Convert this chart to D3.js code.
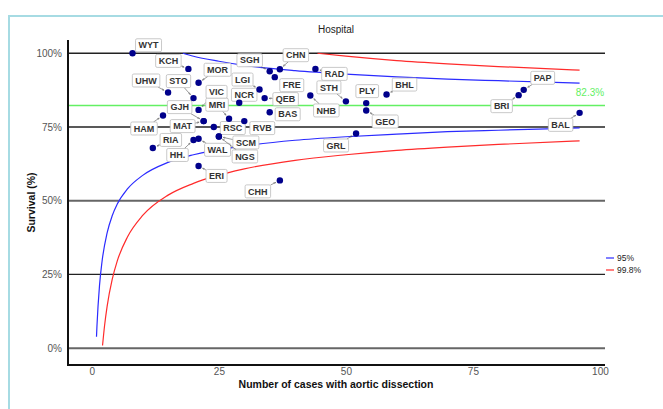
<!DOCTYPE html>
<html lang="en">
<head>
<meta charset="UTF-8">
<title>Hospital funnel plot</title>
<script src="https://cdn.jsdelivr.net/npm/d3@7"></script>
<style>
  body { margin: 0; background: #fff; }
  text { font-family: "Liberation Sans", Arial, sans-serif; }
</style>
</head>
<body>
<script>

    // hospitals: cases and survival (%)
    var hospitals = ["WYT","KCH","MOR","UHW","STO","VIC","GJH","MAT","MRI","LGI","NCR","QEB","BAS","SGH","CHN","FRE",
                     "HAM","RSC","RVB","RIA","HH.","WAL","SCM","NGS","ERI","CHH","GRL","RAD","NHB","STH","PLY","GEO",
                     "BHL","BRI","PAP","BAL"];
    var cases    = [8, 19, 21, 15, 20, 21, 22, 22, 27, 33, 29, 34, 35, 35, 37, 36,
                    14, 24, 30, 12, 20, 21, 25, 25, 21, 37, 52, 44, 43, 50, 54, 54,
                    58, 84, 85, 96];
    var survival = [100, 94.7, 90, 86.7, 84.8, 80.8, 77, 77, 77.8, 87.7, 83.2, 84.8, 80, 93.9, 94.6, 91.9,
                    78.9, 75, 77, 67.9, 70.6, 71, 71.8, 71.8, 61.8, 56.9, 72.8, 94.7, 85.7, 83.7, 83.1, 80.6,
                    86, 85.8, 87.6, 79.8];

    var overall = 82.3;

    // control limits (cases -> survival %)
    var lower95n  = [0.91, 1, 1.5, 2, 3, 4, 5, 7, 10, 15, 20, 30, 40, 50, 60, 70, 80, 96];
    var lower95   = [3.9, 7.5, 21.2, 29.4, 39.1, 44.9, 48.9, 54.0, 58.6, 63.0, 65.6, 68.6, 70.5, 71.7, 72.6, 73.4, 73.9, 74.7];
    var lower998n = [2.1, 2.5, 3, 4, 5, 7, 10, 15, 20, 30, 40, 50, 60, 70, 80, 96];
    var lower998  = [0.9, 7.7, 14.2, 23.3, 29.6, 37.7, 45.0, 51.9, 55.9, 60.8, 63.7, 65.6, 67.1, 68.2, 69.1, 70.3];
    var upper95n  = [17.9, 20, 25, 30, 40, 50, 60, 70, 80, 96];
    var upper95   = [100, 99.0, 97.3, 95.9, 94.1, 92.9, 92.0, 91.2, 90.7, 89.9];
    var upper998n = [44.4, 50, 60, 70, 80, 96];
    var upper998  = [100, 99.0, 97.5, 96.4, 95.5, 94.3];

    var yTicks = [0, 25, 50, 75, 100];
    var xTicks = [0, 25, 50, 75, 100];

    // label nudges (px) for the repelled labels
    var nudge = {
        WYT:[16,-8], KCH:[-20,-8], MOR:[19,-13], UHW:[-22,-12], STO:[-15,-17], VIC:[18,-18],
        GJH:[-24,-14], MAT:[-21,5], MRI:[-12,-14], LGI:[-17,-10], NCR:[5,-8], QEB:[21,1],
        BAS:[18,2], SGH:[-20,-11], CHN:[16,-14], FRE:[17,8], HAM:[-19,13], RSC:[19,1],
        RVB:[18,7], RIA:[18,-8], "HH.":[-16,15], WAL:[19,11], SCM:[27,6], NGS:[26,20],
        ERI:[18,10], CHH:[-22,11], GRL:[-20,12], RAD:[19,5], NHB:[16,15], STH:[-17,-14],
        PLY:[1,-12], GEO:[19,11], BHL:[18,-10], BRI:[-17,11], PAP:[19,-12], BAL:[-19,12]
    };

    var W = 663, H = 409;
    var pLeft = 68, pRight = 605, pTop = 40, pBottom = 365;

    var svg = d3.select("body").append("svg")
            .attr("width", W)
            .attr("height", H);

    // light blue frame of the screenshot
    svg.append("path")
            .attr("d", "M9," + H + "V16H" + W)
            .attr("fill", "none")
            .attr("stroke", "#a6dbe3")
            .attr("stroke-width", 2);

    var x = d3.scaleLinear().domain([-4.7, 101]).range([pLeft, pRight]);
    var y = d3.scaleLinear().domain([-5.7, 104.5]).range([pBottom, pTop]);

    // horizontal reference lines
    svg.append("g").selectAll("line")
            .data(yTicks)
            .enter().append("line")
            .attr("x1", pLeft).attr("x2", pRight)
            .attr("y1", function (d) { return y(d); })
            .attr("y2", function (d) { return y(d); })
            .attr("stroke", function (d) { return (d == 0 || d == 50) ? "#666" : "#222"; })
            .attr("stroke-width", function (d) { return (d == 0 || d == 50) ? 2 : 1.3; });

    svg.append("line")
            .attr("x1", pLeft).attr("x2", pRight)
            .attr("y1", y(overall)).attr("y2", y(overall))
            .attr("stroke", "#63f063")
            .attr("stroke-width", 1.6);

    svg.append("text")
            .attr("x", 590).attr("y", y(overall) - 9)
            .attr("text-anchor", "middle")
            .attr("font-size", 10)
            .attr("fill", "#63f063")
            .text(overall + "%");

    // funnel limits
    var line = d3.line()
            .x(function (d) { return x(d[0]); })
            .y(function (d) { return y(d[1]); })
            .curve(d3.curveMonotoneX);

    var limits = [
        [lower95n, lower95, "#2b2bff"],
        [upper95n, upper95, "#2b2bff"],
        [lower998n, lower998, "#ff2b2b"],
        [upper998n, upper998, "#ff2b2b"]
    ];
    limits.forEach(function (l) {
        svg.append("path")
                .datum(d3.zip(l[0], l[1]))
                .attr("d", line)
                .attr("fill", "none")
                .attr("stroke", l[2])
                .attr("stroke-width", 1.2);
    });

    // axes
    var yAxis = d3.axisLeft(y).tickValues(yTicks).tickSize(0).tickPadding(5)
            .tickFormat(function (d) { return d + "%"; });
    var xAxis = d3.axisBottom(x).tickValues(xTicks).tickSize(0).tickPadding(2);

    var gy = svg.append("g").attr("transform", "translate(" + (pLeft - 1) + ",0)").call(yAxis);
    var gx = svg.append("g").attr("transform", "translate(0," + (pBottom + 1) + ")").call(xAxis);
    [gx, gy].forEach(function (g) {
        g.select(".domain").remove();
        g.selectAll("text").attr("font-size", 10).attr("fill", "#555")
                .style("font-family", "Liberation Sans, Arial, sans-serif");
    });

    svg.append("path")
            .attr("d", "M" + pLeft + "," + pTop + "V" + pBottom + "H" + pRight)
            .attr("fill", "none")
            .attr("stroke", "#111")
            .attr("stroke-width", 2);

    // titles
    svg.append("text")
            .attr("x", 336).attr("y", 33)
            .attr("text-anchor", "middle")
            .attr("font-size", 10)
            .attr("fill", "#222")
            .text("Hospital");

    svg.append("text")
            .attr("x", 336).attr("y", 388)
            .attr("text-anchor", "middle")
            .attr("font-size", 10.5)
            .attr("font-weight", "bold")
            .attr("fill", "#111")
            .text("Number of cases with aortic dissection");

    svg.append("text")
            .attr("transform", "translate(35," + ((pTop + pBottom) / 2) + ") rotate(-90)")
            .attr("text-anchor", "middle")
            .attr("font-size", 10.5)
            .attr("font-weight", "bold")
            .attr("fill", "#111")
            .text("Survival (%)");

    // legend
    var legend = svg.append("g").attr("transform", "translate(606,258)");
    [["95%", "#2b2bff"], ["99.8%", "#ff2b2b"]].forEach(function (d, i) {
        legend.append("line")
                .attr("x1", 0).attr("x2", 8)
                .attr("y1", i * 12).attr("y2", i * 12)
                .attr("stroke", d[1]).attr("stroke-width", 1.2);
        legend.append("text")
                .attr("x", 11).attr("y", i * 12 + 3)
                .attr("font-size", 8.5)
                .attr("fill", "#222")
                .text(d[0]);
    });

    // points + labels
    var pts = hospitals.map(function (h, i) {
        return {name: h, n: cases[i], s: survival[i]};
    });

    svg.append("defs").append("marker")
            .attr("id", "arr")
            .attr("viewBox", "0 0 10 10")
            .attr("refX", 10).attr("refY", 5)
            .attr("markerWidth", 4).attr("markerHeight", 4)
            .attr("orient", "auto")
            .append("path")
            .attr("d", "M0,1L10,5L0,9")
            .attr("fill", "none")
            .attr("stroke", "#555")
            .attr("stroke-width", 1.5);

    var labelG = svg.append("g");
    var dotG = svg.append("g");

    dotG.selectAll("circle")
            .data(pts)
            .enter().append("circle")
            .attr("cx", function (d) { return x(d.n); })
            .attr("cy", function (d) { return y(d.s); })
            .attr("r", 3.2)
            .attr("fill", "#00008b");

    pts.forEach(function (d) {
        var px = x(d.n), py = y(d.s);
        var off = nudge[d.name];
        var cx = px + off[0], cy = py + off[1];
        var g = labelG.append("g");
        var t = g.append("text")
                .attr("x", cx).attr("y", cy + 3.2)
                .attr("text-anchor", "middle")
                .attr("font-size", 9)
                .attr("font-weight", "bold")
                .attr("fill", "#333")
                .text(d.name);
        var bw = t.node().getComputedTextLength() + 6, bh = 13;
        // arrow from box edge to point
        var dx = px - cx, dy = py - cy;
        var sx = Math.abs(dx) > 0 ? (bw / 2) / Math.abs(dx) : Infinity;
        var sy = Math.abs(dy) > 0 ? (bh / 2) / Math.abs(dy) : Infinity;
        var s = Math.min(sx, sy);
        var len = Math.sqrt(dx * dx + dy * dy);
        var ex = px - dx / len * 4.5, ey = py - dy / len * 4.5;
        if (s < 1 && len * (1 - s) > 6) {
            g.insert("line", "text")
                    .attr("x1", cx + dx * s).attr("y1", cy + dy * s)
                    .attr("x2", ex).attr("y2", ey)
                    .attr("stroke", "#555")
                    .attr("stroke-width", 0.6)
                    .attr("marker-end", "url(#arr)");
        }
        g.insert("rect", "text")
                .attr("x", cx - bw / 2).attr("y", cy - bh / 2)
                .attr("width", bw).attr("height", bh)
                .attr("rx", 1.5)
                .attr("fill", "#fff")
                .attr("stroke", "#bbb")
                .attr("stroke-width", 0.8);
    });

</script>
</body>
</html>
